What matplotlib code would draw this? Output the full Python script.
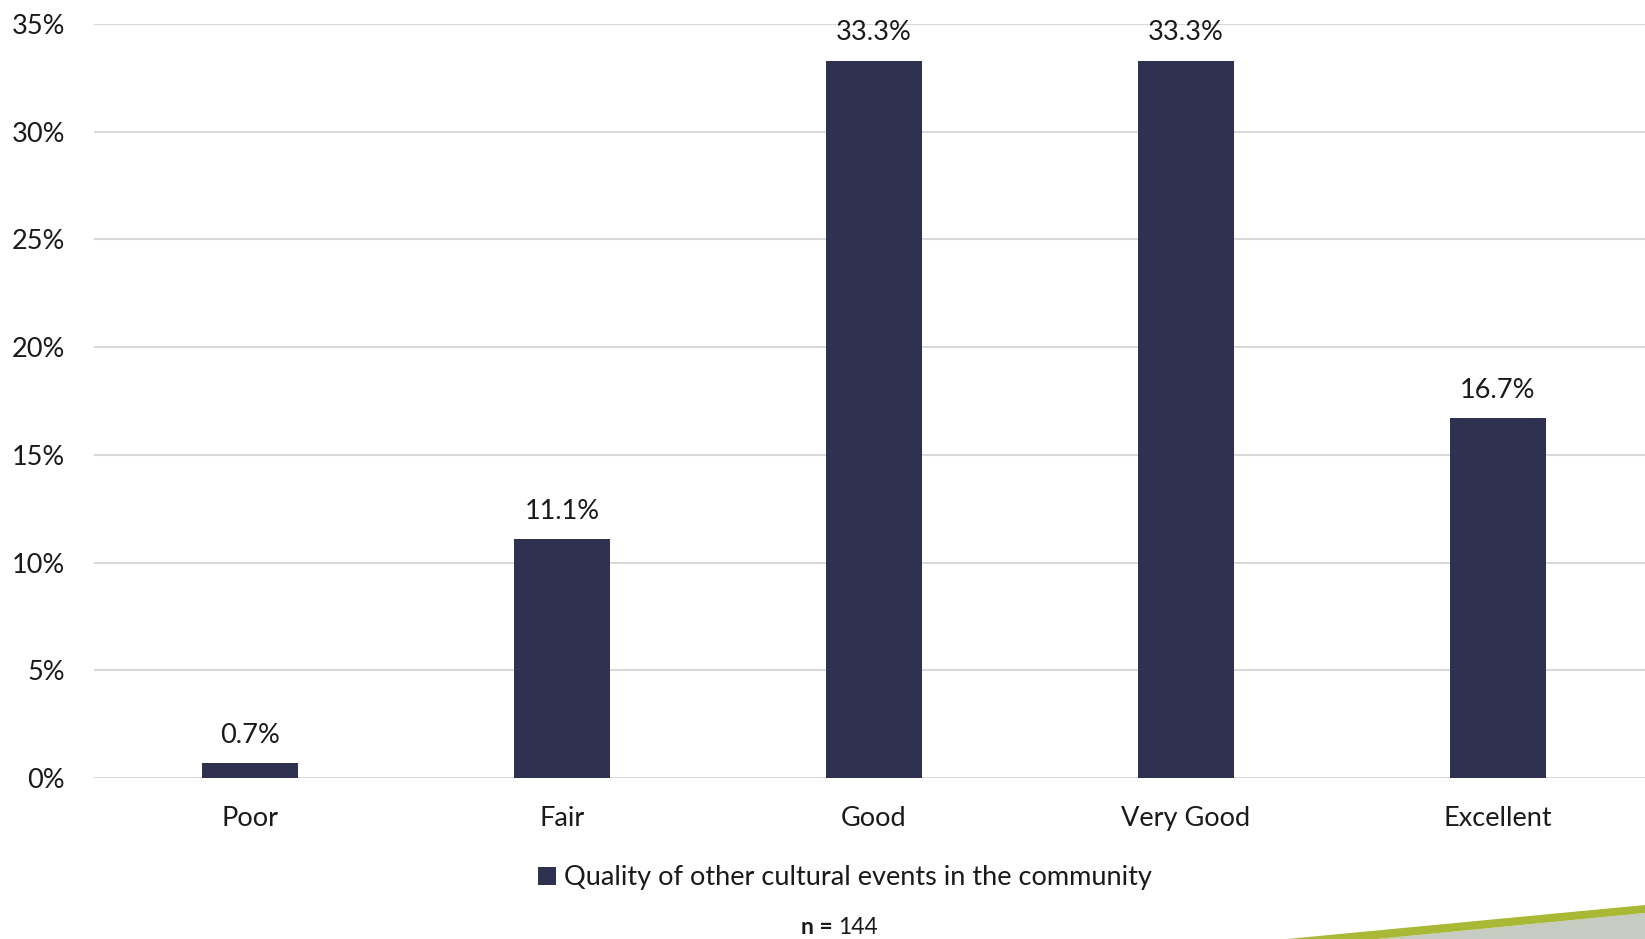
import matplotlib
matplotlib.use("Agg")
import matplotlib.pyplot as plt
from matplotlib.patches import Polygon
from matplotlib.ticker import PercentFormatter

# Survey results
categories = ["Poor", "Fair", "Good", "Very Good", "Excellent"]
shares = [0.7, 11.1, 33.3, 33.3, 16.7]
value_labels = ["0.7%", "11.1%", "33.3%", "33.3%", "16.7%"]
series_name = "Quality of other cultural events in the community"
sample_size = "144"

BAR_COLOR = "#2E3250"
GRID_COLOR = "#D9D9D9"
TEXT_COLOR = "#1A1A1A"
FS = 19.5

plt.rcParams["font.family"] = ["Lato", "DejaVu Sans"]

W, H = 1645, 939
fig = plt.figure(figsize=(W / 100, H / 100), dpi=100)
ax = fig.add_axes([94 / W, 1 - 778 / H, 1560 / W, (778 - 24) / H])

x = range(len(categories))
bars = ax.bar(x, shares, width=0.31, color=BAR_COLOR, label=series_name, zorder=3)

for rect, lab in zip(bars, value_labels):
    ax.annotate(lab, (rect.get_x() + rect.get_width() / 2, rect.get_height()),
                xytext=(0, 11), textcoords="offset points",
                ha="center", va="bottom", fontsize=FS, color=TEXT_COLOR)

ax.set_xlim(-0.5, len(categories) - 0.5)
ax.set_ylim(0, 35)
ax.set_yticks(range(0, 36, 5))
ax.yaxis.set_major_formatter(PercentFormatter(decimals=0))
ax.set_xticks(list(x))
ax.set_xticklabels(categories)
ax.tick_params(axis="both", length=0, labelsize=FS, colors=TEXT_COLOR)
ax.tick_params(axis="y", pad=21)
ax.tick_params(axis="x", pad=20)
ax.grid(axis="y", color=GRID_COLOR, linewidth=1.5, zorder=0)
for side in ax.spines.values():
    side.set_visible(False)

leg = fig.legend(handles=[bars], labels=[series_name], loc="center",
                 bbox_to_anchor=(845 / W, 1 - 878 / H), frameon=False,
                 fontsize=FS, handlelength=0.65, handleheight=0.65,
                 handletextpad=0.3, labelcolor=TEXT_COLOR)

# sample size note
fig.text(838 / W, 1 - 928 / H, "n = ", ha="right", va="center",
         fontsize=16.5, fontweight="bold", color=TEXT_COLOR)
fig.text(838 / W, 1 - 928 / H, sample_size, ha="left", va="center",
         fontsize=16.5, color=TEXT_COLOR)

# decorative corner stripe
def fpts(pts):
    return [(px / W, 1 - py / H) for px, py in pts]

fig.patches.append(Polygon(fpts([(1377, 939), (1645, 913), (1645, 939)]),
                           closed=True, transform=fig.transFigure,
                           facecolor="#C7CCC2", edgecolor="none"))
fig.patches.append(Polygon(fpts([(1287, 939), (1645, 905), (1645, 913), (1377, 939)]),
                           closed=True, transform=fig.transFigure,
                           facecolor="#A9B935", edgecolor="none"))

fig.savefig("out.png", dpi=100, facecolor="white")
